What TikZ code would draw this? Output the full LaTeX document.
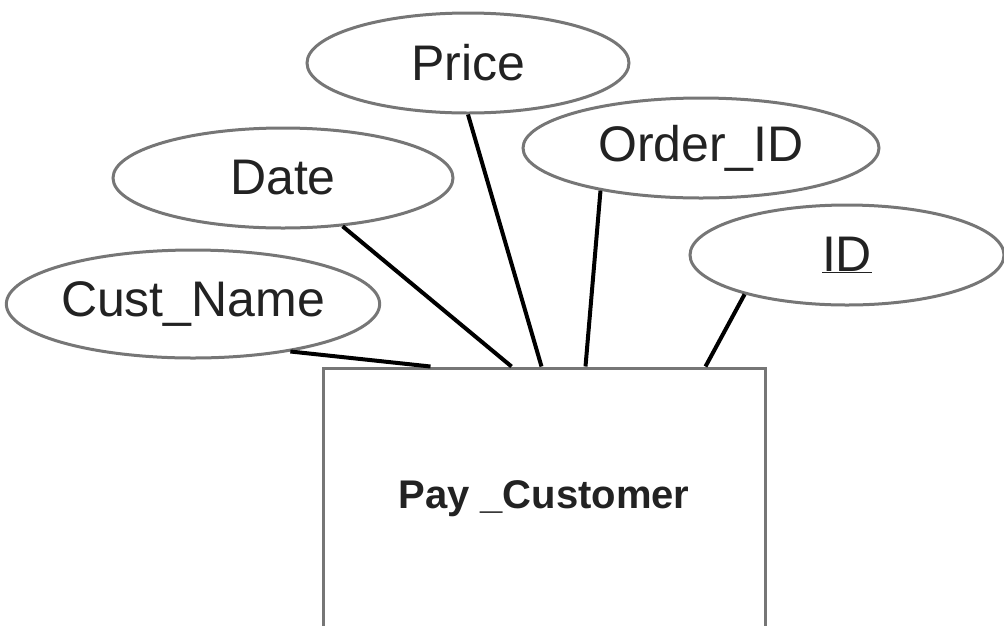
\documentclass[tikz,border=0pt]{standalone}
\usepackage{fontspec}
\setmainfont{Liberation Sans}
\usetikzlibrary{shapes.geometric}
\definecolor{edgegray}{RGB}{118,118,118}
\definecolor{inkgray}{RGB}{34,34,34}
\tikzset{
  attr/.style={ellipse, draw=edgegray, line width=3pt, fill=white, inner sep=0pt, text=inkgray, font=\fontsize{50}{60}\selectfont},
  entity/.style={rectangle, draw=edgegray, line width=3pt, fill=white, inner sep=0pt, minimum width=442, minimum height=262, text=inkgray, font=\bfseries\fontsize{40}{48}\selectfont},
  link/.style={black, line width=4pt}
}
\begin{document}
\begin{tikzpicture}[x=1pt, y=1pt]
\useasboundingbox (0,0) rectangle (1004,-625);
\node[entity] (pay) at (544,-499) {Pay \_Customer};
\node[attr, minimum width=322, minimum height=100] (price) at (468,-63) {Price};
\node[attr, minimum width=340, minimum height=100] (date) at (283,-178) {Date};
\node[attr, minimum width=356, minimum height=100] (order) at (701,-148) {Order\_ID};
\node[attr, minimum width=314, minimum height=100] (id) at (847,-255) {\underline{ID}};
\node[attr, minimum width=370, minimum height=108] (cust) at (193,-304) {Cust\_Name};
\draw[link] (cust.-26.6) -- ([xshift=109pt]pay.north west);
\draw[link] (date.-39.5) -- ([xshift=190pt]pay.north west);
\draw[link] (price.south) -- ([xshift=220pt]pay.north west);
\draw[link] (order.203.6) -- ([xshift=264pt]pay.north west);
\draw[link] (id.201) -- ([xshift=384pt]pay.north west);
\end{tikzpicture}
\end{document}
